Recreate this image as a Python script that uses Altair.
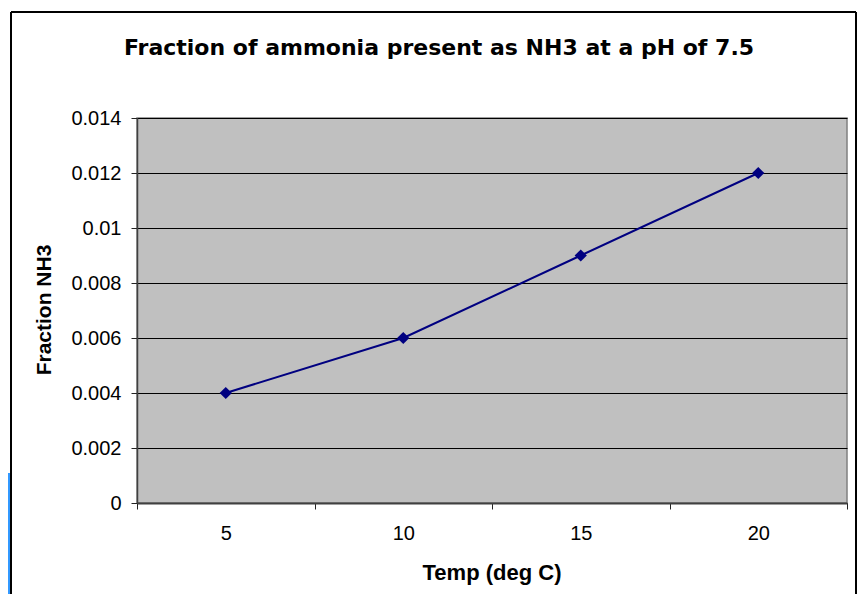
import altair as alt
import pandas as pd

temps = [5, 10, 15, 20]
fraction_nh3 = [0.004, 0.006, 0.009, 0.012]
y_ticks = [0, 0.002, 0.004, 0.006, 0.008, 0.010, 0.012, 0.014]
x_ticks = [2.5, 5, 7.5, 10, 12.5, 15, 17.5, 20, 22.5]
chart_title = "Fraction of ammonia present as NH3 at a pH of 7.5"
x_title = "Temp (deg C)"
y_title = "Fraction NH3"

df = pd.DataFrame({"temp": temps, "frac": fraction_nh3})
FONT = "Liberation Sans"

x_enc = alt.X(
    "temp:Q",
    scale=alt.Scale(domain=[2.5, 22.5], nice=False, zero=False),
    axis=alt.Axis(
        values=x_ticks,
        labelExpr="datum.value % 5 == 0 ? datum.label : ''",
        tickColor={"condition": {"test": "datum.value % 5 == 0", "value": "transparent"}, "value": "#222222"},
        tickSize=6,
        labelPadding=14,
        labelFont=FONT,
        labelFontSize=20,
        labelColor="#000000",
        domainColor="#404040",
        domainWidth=2,
        grid=False,
        title=None,
    ),
)
y_enc = alt.Y(
    "frac:Q",
    scale=alt.Scale(domain=[0, 0.014], nice=False),
    axis=alt.Axis(
        values=y_ticks,
        format="~f",
        tickSize=6,
        tickColor="#222222",
        labelPadding=10,
        labelFont=FONT,
        labelFontSize=20,
        labelColor="#000000",
        domainColor="#404040",
        domainWidth=1.5,
        grid=True,
        gridColor="#000000",
        gridWidth=1,
        title=None,
    ),
)

line = alt.Chart(df).mark_line(color="#000080", strokeWidth=2).encode(x=x_enc, y=y_enc)
pts = alt.Chart(df).mark_point(shape="diamond", filled=True, size=150, color="#000080", opacity=1).encode(
    x="temp:Q", y="frac:Q"
)

one = pd.DataFrame({"t": [chart_title], "xt": [x_title], "yt": [y_title]})
title_txt = alt.Chart(one).mark_text(font="DejaVu Sans", fontSize=22, fontWeight="bold", color="#000000",
                                     align="center", baseline="middle").encode(
    text="t:N", x=alt.value(302), y=alt.value(-70))
xt_txt = alt.Chart(one).mark_text(font=FONT, fontSize=22, fontWeight="bold", color="#000000",
                                  align="center", baseline="middle").encode(
    text="xt:N", x=alt.value(355), y=alt.value(455))
yt_txt = alt.Chart(one).mark_text(font=FONT, fontSize=21, fontWeight="bold", color="#000000",
                                  align="center", baseline="middle", angle=270).encode(
    text="yt:N", x=alt.value(-92), y=alt.value(192))

# frame border and page decorations
border_v = alt.Chart(one).mark_rule(color="#000000", strokeWidth=2).encode(
    x=alt.value(-126), y=alt.value(-106), y2=alt.value(476))
border_v2 = alt.Chart(one).mark_rule(color="#000000", strokeWidth=2).encode(
    x=alt.value(719), y=alt.value(-106), y2=alt.value(476))
border_h = alt.Chart(one).mark_rule(color="#000000", strokeWidth=2).encode(
    x=alt.value(-126), x2=alt.value(719), y=alt.value(-106))
blue_l = alt.Chart(one).mark_rect(color="#3399FF").encode(
    x=alt.value(-129), x2=alt.value(-127), y=alt.value(355), y2=alt.value(476))

chart = alt.layer(line, pts, title_txt, xt_txt, yt_txt, border_v, border_v2, border_h, blue_l).properties(
    width=710, height=385,
    padding={"left": 0, "top": 3, "right": 0, "bottom": 0},
).configure(background="#FFFFFF").configure_view(
    fill="#C0C0C0", stroke="#808080", strokeWidth=1.5
)

chart.save("out.html", embed_options={"renderer": "svg", "actions": False})
